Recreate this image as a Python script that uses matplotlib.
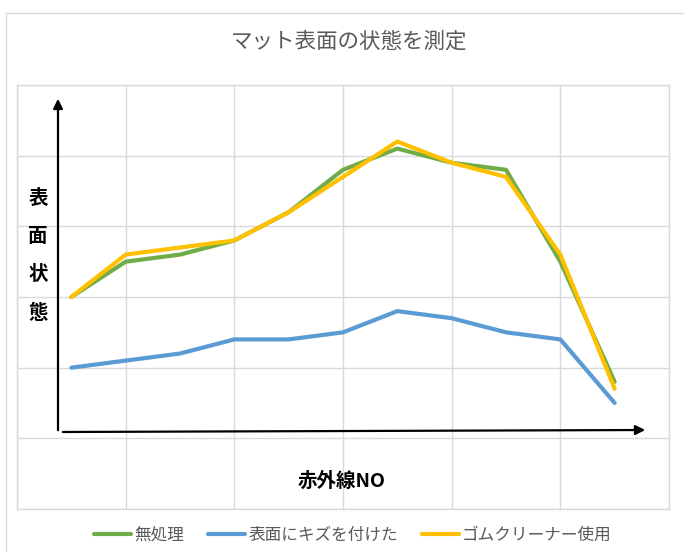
import matplotlib
matplotlib.use("Agg")
import matplotlib.pyplot as plt
from matplotlib.patches import Rectangle, FancyArrowPatch

plt.rcParams['font.family'] = ['Noto Sans CJK JP', 'DejaVu Sans']

title = "マット表面の状態を測定"
x_label = "赤外線NO"
y_label = "表面状態"
series_names = ["無処理", "表面にキズを付けた", "ゴムクリーナー使用"]
colors = ["#70AD47", "#5B9BD5", "#FFC000"]
x_index = list(range(11))
untreated = [3.0, 3.5, 3.6, 3.8, 4.2, 4.8, 5.1, 4.9, 4.8, 3.5, 1.8]
scratched = [2.0, 2.1, 2.2, 2.4, 2.4, 2.5, 2.8, 2.7, 2.5, 2.4, 1.5]
rubber_cleaner = [3.0, 3.6, 3.7, 3.8, 4.2, 4.7, 5.2, 4.9, 4.7, 3.6, 1.7]
values = [untreated, scratched, rubber_cleaner]

W, H = 684, 552
fig = plt.figure(figsize=(W / 100, H / 100), dpi=100)

def fx(px):
    return px / W

def fy(py):
    return 1 - py / H

# outer chart border
fig.add_artist(Rectangle((fx(6), fy(560)), fx(700) - fx(6), fy(13) - fy(560),
                         transform=fig.transFigure, fill=False,
                         edgecolor="#D9D9D9", linewidth=1.0))

ax = fig.add_axes([fx(17), fy(509), fx(669) - fx(17), fy(85) - fy(509)])
ax.set_xlim(-1, 11)
ax.set_ylim(0, 6)
ax.set_xticks(range(-1, 12, 2))
ax.set_yticks(range(0, 7))
ax.tick_params(length=0, labelbottom=False, labelleft=False)
ax.grid(True, color="#D9D9D9", linewidth=1.0)
for s in ax.spines.values():
    s.set_color("#D9D9D9")
    s.set_linewidth(1.0)
ax.set_axisbelow(True)

for name, vals, c in zip(series_names, values, colors):
    ax.plot(x_index, vals, color=c, linewidth=3.0, label=name,
            solid_capstyle='round', solid_joinstyle='round')

# hand-drawn style axis arrows
fig.add_artist(FancyArrowPatch((fx(58), fy(433)), (fx(58), fy(96)),
                               transform=fig.transFigure, arrowstyle='-|>',
                               mutation_scale=14, color='black', linewidth=1.6))
fig.add_artist(FancyArrowPatch((fx(60), fy(432)), (fx(648), fy(430)),
                               transform=fig.transFigure, arrowstyle='-|>',
                               mutation_scale=14, color='black', linewidth=1.6))

fig.text(fx(349), fy(42), title, ha='center', va='center', fontsize=15.5, color='#595959')
fig.text(fx(38), fy(256), "\n".join(y_label), ha='center', va='center', fontsize=14,
         fontweight='bold', color='black', linespacing=2.25)
fig.text(fx(342), fy(481), x_label, ha='center', va='center', fontsize=14,
         fontweight='bold', color='black')

handles, labels = ax.get_legend_handles_labels()
fig.legend(handles, labels, loc='center', bbox_to_anchor=(fx(353), fy(535)), ncol=3,
           frameon=False, fontsize=12, handlelength=2.2, handletextpad=0.2,
           columnspacing=1.45, labelcolor='#595959')

fig.savefig("out.png", dpi=100)
